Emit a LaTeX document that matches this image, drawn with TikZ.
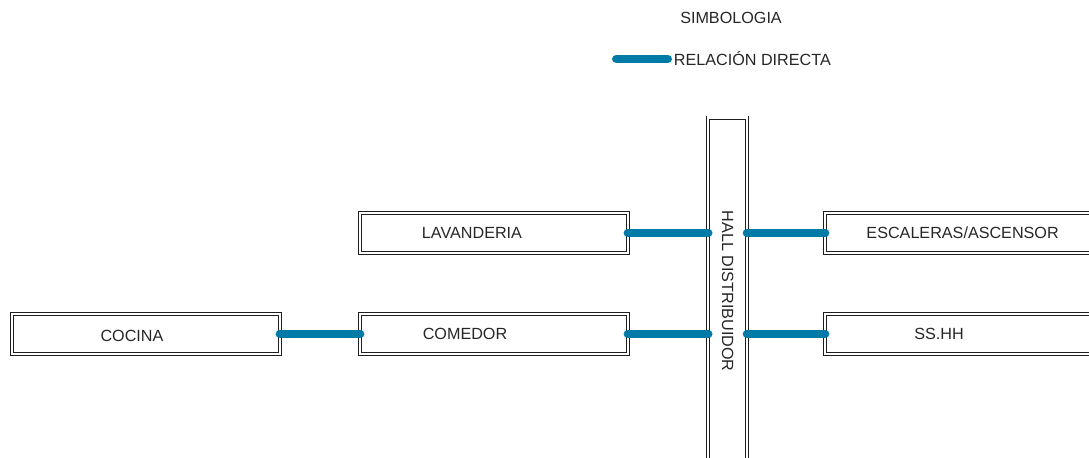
\documentclass[tikz,border=0pt]{standalone}
\usepackage{fontspec}
\setmainfont{Liberation Sans}
\usepackage{tikz}
\usetikzlibrary{positioning}
\definecolor{linkblue}{RGB}{0,122,166}
\definecolor{edgegray}{RGB}{30,30,30}

\begin{document}
\begin{tikzpicture}[
    room/.style={draw=edgegray, double, double distance=0.06cm, line width=0.55pt,
                 minimum width=6.7cm, minimum height=1.0cm, outer sep=0pt, inner sep=0pt},
    hallbox/.style={room, minimum width=0.975cm, minimum height=8.675cm},
    lbl/.style={font=\fontsize{11.5}{13}\selectfont, text=black!85, inner sep=0pt},
    link/.style={draw=linkblue, line width=0.22cm, line cap=round}
]
    \useasboundingbox (0,0) rectangle (27.225,-11.425);

    % legend
    \node[lbl] (simb) at (18.275,-0.45) {SIMBOLOGIA};
    \coordinate (lega) at (15.41,-1.475);
    \coordinate (legb) at (16.69,-1.475);
    \node[lbl, right=0.15cm of legb] (legtxt) {RELACIÓN DIRECTA};
    \draw[link] (lega) -- (legb);

    \node[room, label={[lbl, xshift=-0.35cm, yshift=-0.05cm]center:COCINA}] (cocina) at (3.65,-8.35) {};
    \node[room, right=2.0cm of cocina, label={[lbl, xshift=-0.725cm]center:COMEDOR}] (comedor) {};
    \node[room, above=1.525cm of comedor, label={[lbl, xshift=-0.55cm]center:LAVANDERIA}] (lavanderia) {};
    \node[hallbox, anchor=north, yshift=-0.05cm] (hall) at (18.19,-2.89) {};
    \node[lbl, rotate=-90] (halltxt) at (hall) {HALL DISTRIBUIDOR};
    \node[room, right=4.925cm of lavanderia, label={[lbl, xshift=0.09cm]center:ESCALERAS/ASCENSOR}] (escaleras) {};
    \node[room, right=4.925cm of comedor, label={[lbl, xshift=-0.5cm]center:SS.HH}] (sshh) {};

    \draw[link] (cocina.east) -- (comedor.west);
    \draw[link] (lavanderia.east) -- (lavanderia.east -| hall.west);
    \draw[link] (comedor.east) -- (comedor.east -| hall.west);
    \draw[link] (escaleras.west -| hall.east) -- (escaleras.west);
    \draw[link] (sshh.west -| hall.east) -- (sshh.west);
\end{tikzpicture}
\end{document}
